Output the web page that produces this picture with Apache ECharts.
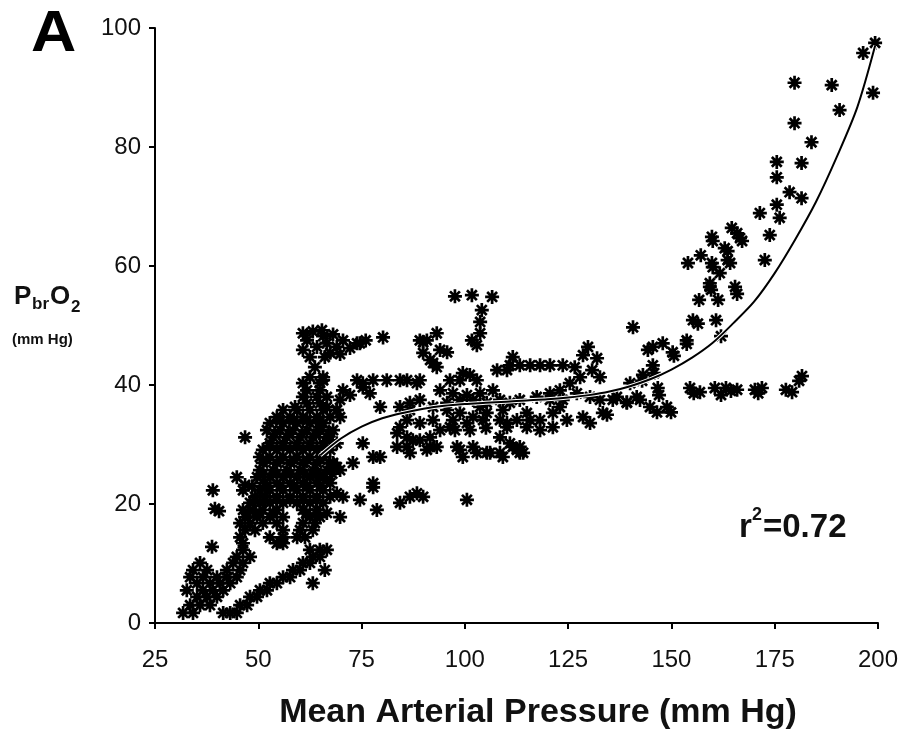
<!DOCTYPE html>
<html>
<head>
<meta charset="utf-8">
<script src="https://cdn.jsdelivr.net/npm/echarts@6/dist/echarts.min.js"></script>
<style>
html,body{margin:0;padding:0;background:#fff;}
#chart{width:906px;height:732px;}
</style>
</head>
<body>
<div id="chart"></div>
<script>
// ---- data (Mean Arterial Pressure [mm Hg], PbrO2 [mm Hg]) ----
const xTicks = [25, 50, 75, 100, 125, 150, 175, 200];
const yTicks = [0, 20, 40, 60, 80, 100];

const lowLeftBlob = [
  [31.8,1.7],[34.2,1.7],[33.5,3.0],[35.9,3.0],[38.3,3.0],[35.2,4.4],[37.6,4.4],[40.0,4.4],
  [32.7,5.5],[36.6,5.5],[39.0,5.5],[41.5,5.5],[35.2,6.7],[38.3,6.7],[40.7,6.7],[43.2,6.7],
  [33.5,7.7],[36.6,7.7],[40.0,7.7],[42.4,7.7],[44.8,7.7],[34.2,8.9],[37.6,8.9],[42.4,8.9],[45.6,8.9],
  [35.9,10.1],[43.9,10.1],[46.3,10.1],[44.8,11.1],[48.0,11.1]
];

const diagonalBand = [
  [41.5,1.7],[43.2,1.7],[44.8,1.7],[45.6,3.0],[47.3,3.0],[48.0,4.4],[49.7,4.4],[50.4,5.5],[52.1,5.5],
  [52.8,6.7],[54.5,6.7],[56.0,7.7],[57.7,7.7],[58.4,8.9],[60.1,8.9],[60.8,10.1],[62.5,10.1],
  [63.2,11.1],[64.9,11.1],[62.5,12.3],[64.9,12.3],[66.6,12.3],[63.2,6.7],[66.1,8.9]
];

const leftIsolated = [
  [38.8,12.8],[39.5,19.2],[40.5,18.8],[39.0,22.3],[46.8,31.2],[44.8,24.5],[46.8,23.2],[58.9,36.3]
];

const mainMass = [
  [46.3,12.3],[46.3,13.4],[54.5,13.4],[56.0,13.4],
  [45.6,14.4],[52.8,14.4],[56.0,14.4],[59.4,14.4],[61.3,14.4],
  [46.8,15.6],[49.2,15.6],[56.0,15.6],[60.1,15.6],[63.2,15.6],
  [45.6,16.8],[48.0,16.8],[51.1,16.8],[54.5,16.8],[60.8,16.8],[63.7,16.8],
  [46.8,17.8],[49.7,17.8],[52.8,17.8],[56.0,17.8],[62.5,17.8],[64.9,17.8],
  [46.3,19.0],[48.7,19.0],[51.1,19.0],[54.5,19.0],[60.8,19.0],[64.2,19.0],
  [48.0,20.2],[50.4,20.2],[52.8,20.2],[56.0,20.2],[59.4,20.2],[62.5,20.2],[65.7,20.2],
  [49.2,21.2],[51.6,21.2],[54.5,21.2],[57.7,21.2],[60.8,21.2],[64.2,21.2],[67.4,21.2],
  [46.3,22.3],[50.4,22.3],[52.8,22.3],[56.0,22.3],[59.4,22.3],[62.5,22.3],[65.7,22.3],
  [51.6,23.5],[54.5,23.5],[57.7,23.5],[60.8,23.5],[64.2,23.5],[67.4,23.5],
  [49.7,24.5],[52.8,24.5],[56.0,24.5],[59.4,24.5],[62.5,24.5],[65.7,24.5],
  [50.4,25.7],[53.6,25.7],[56.9,25.7],[60.1,25.7],[63.2,25.7],[66.6,25.7],[69.8,25.7],
  [51.1,26.9],[54.5,26.9],[57.7,26.9],[60.8,26.9],[64.2,26.9],[67.4,26.9],
  [50.4,27.9],[52.8,27.9],[56.0,27.9],[59.4,27.9],[62.5,27.9],[65.7,27.9],
  [51.1,29.1],[54.5,29.1],[57.7,29.1],[60.8,29.1],[64.2,29.1],[67.4,29.1],
  [52.8,30.2],[56.0,30.2],[59.4,30.2],[62.5,30.2],[65.7,30.2],[69.0,30.2],
  [53.6,31.2],[56.9,31.2],[60.1,31.2],[63.2,31.2],[66.6,31.2],
  [52.1,32.4],[55.3,32.4],[58.4,32.4],[61.8,32.4],[64.9,32.4],[68.1,32.4],
  [52.8,33.6],[56.0,33.6],[59.4,33.6],[62.5,33.6],[65.7,33.6],
  [54.5,34.6],[57.7,34.6],[60.8,34.6],[64.2,34.6],[67.4,34.6],
  [56.0,35.8],[59.4,35.8],[62.5,35.8],[65.7,35.8],[69.0,35.8],
  [61.8,36.9],[64.9,36.9],[60.8,38.0],[64.2,38.0],[66.6,38.0],
  [61.8,39.1],[64.9,39.1],[60.8,40.3],[64.9,40.3],[62.5,41.3],[65.7,41.3],
  [63.7,43.0],[62.5,44.7],[66.1,44.7]
];

const mainMassInner = [
  [47.5,18.4],[50.4,18.4],[53.6,18.4],[61.6,18.4],[64.0,18.4],
  [49.2,20.7],[51.6,20.7],[54.4,20.7],[57.7,20.7],[61.0,20.7],[64.0,20.7],
  [48.5,23.0],[52.0,23.0],[55.3,23.0],[58.6,23.0],[61.8,23.0],[65.0,23.0],
  [51.2,25.1],[54.5,25.1],[57.8,25.1],[61.2,25.1],[64.4,25.1],[67.9,25.1],
  [52.0,27.4],[55.3,27.4],[58.6,27.4],[61.8,27.4],[65.0,27.4],
  [52.8,29.7],[56.0,29.7],[59.3,29.7],[62.5,29.7],[65.8,29.7],
  [54.0,31.8],[57.3,31.8],[60.6,31.8],[63.9,31.8],[67.0,31.8],
  [55.4,34.0],[58.6,34.0],[61.8,34.0],[65.0,34.0]
];

const topLeftCluster = [
  [60.8,48.7],[63.2,49.0],[65.4,49.2],[64.2,46.4],[66.6,47.0],[69.0,46.4],[70.5,47.5],[72.2,46.2],
  [73.9,47.0],[74.6,47.0],[76.0,47.5],[60.8,45.9],[67.4,45.4],[69.8,45.2],[80.2,48.0],
  [61.8,47.5],[65.7,48.2],[68.1,48.5]
];

const midLeftScatter = [
  [67.4,30.7],[75.3,30.2],[77.8,27.9],[79.5,27.9],[72.9,26.9],[69.0,26.2],[68.1,26.9],[66.6,24.0],
  [64.9,24.9],[77.8,23.5],[70.5,21.2],[74.6,20.7],[78.7,19.0],[84.3,20.2],[86.7,21.2],[88.4,21.8],
  [89.9,21.2],[100.5,20.7],[69.0,21.8],[66.6,18.5],[69.8,17.8],[77.8,22.8],
  [64.9,32.9],[66.6,36.3],[69.8,34.6],[69.8,37.5],[70.5,39.1],[75.3,39.6],[77.0,38.6],[79.5,36.3],
  [65.7,40.8],[69.0,35.8],[72.2,38.3],[73.9,40.8]
];

const middleUpper = [
  [75.3,40.3],[77.8,40.8],[81.1,40.8],[84.3,40.8],[86.0,40.8],[88.4,40.3],[89.1,40.8],[96.4,40.8],
  [98.8,40.8],[99.5,42.0],[101.2,41.7],[102.9,40.8],
  [90.8,47.5],[93.2,48.7],[89.9,47.2],[89.9,45.4],[92.3,43.7],[94.0,45.9],[95.7,45.5],[91.6,44.2],
  [93.2,43.0],[89.1,47.5],
  [97.6,54.9],[101.7,55.1],[106.6,54.8],[104.1,52.6],[103.7,50.6],[103.7,48.7],[101.7,47.5],[102.9,46.7],
  [107.8,42.5],[110.2,42.5],[110.9,43.3],[113.3,43.3],[115.8,43.3],[118.2,43.3],[120.6,43.3],[123.7,43.3],
  [111.6,44.7],
  [128.6,45.0],[132.0,44.5],[130.8,42.5],[127.9,41.3],[132.7,41.3],[125.4,40.3],[123.0,39.1],[120.6,38.6],
  [129.8,46.4],[126.6,43.0]
];

const middleBands = [
  [84.3,36.3],[86.7,37.0],[89.1,37.5],[92.3,36.3],[95.7,37.0],[98.8,37.5],[102.0,37.5],[105.3,37.0],
  [108.5,37.5],[110.9,37.0],[113.3,37.5],[117.4,38.0],[120.6,37.5],[123.7,37.5],[127.1,38.6],[130.3,38.0],
  [132.7,37.5],[135.8,37.5],[136.8,38.0],[139.2,37.0],[141.6,38.0],
  [89.1,33.6],[92.3,34.1],[96.4,32.9],[100.5,33.6],[104.4,34.1],[108.5,34.1],[112.6,34.1],[115.8,34.1],
  [118.2,34.1],[121.3,35.3],[124.7,34.1],[128.6,34.6],[130.3,33.6],[133.4,35.3],[115.0,32.9],[118.2,32.4],
  [121.3,32.9],[115.0,35.3],[123.0,36.3],[134.4,35.0],
  [94.0,39.1],[97.1,38.6],[100.5,38.3],[103.7,38.6],[106.8,39.1],[95.7,35.8],[98.8,35.3],[102.0,34.6],
  [105.3,35.3],[97.6,32.4],[101.2,32.4],[105.1,32.8],[86.7,35.8],[86.0,34.1],[97.1,34.1],[103.7,36.3],
  [109.2,35.8],[110.2,33.6]
];

const middleLower = [
  [84.3,32.9],[86.0,31.2],[83.6,31.9],[83.6,29.6],[86.0,29.6],[87.4,30.7],[89.1,30.7],[90.8,29.1],
  [91.6,31.2],[91.6,29.6],[94.0,32.4],[86.7,28.6],[93.2,29.6],[98.1,29.6],[99.5,27.9],[98.8,29.1],
  [102.0,29.6],[102.9,28.6],[105.3,28.6],[106.1,28.6],[108.5,28.6],[111.6,29.6],[112.6,29.1],[113.3,29.6],
  [114.1,28.6],[108.5,31.2],[110.9,30.2],[110.2,32.9],[109.2,27.9],[113.3,28.6]
];

const rightMiddle = [
  [140.0,40.3],[143.1,41.7],[145.5,43.3],[145.5,46.4],[147.9,47.0],[150.3,45.5],[153.7,47.5],[155.2,50.9],
  [144.8,36.3],[148.9,36.3],[146.7,39.5],[154.5,39.5],[140.7,49.7],[142.4,37.5],[146.5,35.4],[149.9,35.4],
  [142.9,40.7],[145.8,42.0],[139.2,37.1],[147.0,38.3],[144.3,45.9],[153.7,46.9],[150.6,44.9]
];

const rightUpper = [
  [199.3,97.5],[196.4,95.8],[198.8,89.1],[188.8,90.4],[179.8,90.8],[190.7,86.2],[179.8,84.0],[183.9,80.8],
  [175.5,77.5],[181.5,77.3],[175.5,74.9],[178.6,72.4],[181.5,71.4],[171.4,68.9],[175.5,70.3],[176.2,68.1],
  [173.8,65.2],[172.6,61.0],[165.9,65.5],[167.1,64.2],[159.8,64.9],[164.6,66.4],[166.6,64.7],[160.0,64.2],
  [162.9,63.0],[163.6,62.5],[163.6,61.0],[164.2,60.5],[159.8,60.5],[160.0,59.8],[161.7,58.8],[159.3,57.1],
  [159.3,56.5],[165.4,56.5],[165.9,55.3],[159.6,56.0],[161.3,54.3],[156.7,54.3],[156.4,50.3],[160.8,50.9],
  [162.0,48.2],[154.0,60.5],[157.1,61.8]
];

const rightFlat = [
  [155.4,38.6],[156.9,38.8],[160.5,39.5],[162.0,38.3],[163.2,39.5],[164.4,39.0],[165.9,39.2],[170.2,39.2],
  [171.9,39.5],[171.0,38.6],[177.7,39.2],[179.2,38.8],[180.9,40.7],[181.6,41.5]
];

// fitted curve (r² = 0.72)
const fitX = [65, 70, 75, 80, 85, 90, 95, 100, 105, 110, 115, 120, 125, 130, 135, 140, 145, 150, 155, 160, 165, 170, 175, 180, 185, 190, 195, 199.3];
const fitY = [28.2, 31.0, 33.0, 34.4, 35.3, 36.0, 36.5, 36.8, 37.0, 37.2, 37.4, 37.6, 37.9, 38.3, 38.9, 39.8, 41.0, 42.6, 44.6, 47.1, 50.4, 54.0, 58.8, 64.5, 70.8, 78.3, 86.7, 97.0];

// ---- chart ----
const points = [].concat(lowLeftBlob, diagonalBand, leftIsolated, mainMass, mainMassInner, topLeftCluster,
  midLeftScatter, middleUpper, middleBands, middleLower, rightMiddle, rightUpper, rightFlat);
const fitLine = fitX.map((x, i) => [x, fitY[i]]);

const FONT = '"Liberation Sans", Arial, "DejaVu Sans", sans-serif';
const star = 'path://M6 0 L6 12 M0 6 L12 6 M1.76 1.76 L10.24 10.24 M1.76 10.24 L10.24 1.76';

const chart = echarts.init(document.getElementById('chart'), null, {renderer: 'canvas'});
chart.setOption({
  animation: false,
  backgroundColor: '#fff',
  grid: {left: 155, right: 28, top: 28, bottom: 109, containLabel: false, outerBoundsMode: 'none'},
  xAxis: {
    type: 'value', min: 25, max: 200, interval: 25,
    axisLine: {show: true, onZero: false, lineStyle: {color: '#000', width: 2}},
    axisTick: {show: true, length: 6, lineStyle: {color: '#000', width: 2}},
    axisLabel: {color: '#111', fontSize: 24, fontFamily: FONT, margin: 25,
      formatter: v => xTicks.indexOf(v) >= 0 ? String(v) : ''},
    splitLine: {show: false}
  },
  yAxis: {
    type: 'value', min: 0, max: 100, interval: 20,
    axisLine: {show: true, onZero: false, lineStyle: {color: '#000', width: 2}},
    axisTick: {show: true, length: 6, lineStyle: {color: '#000', width: 2}},
    axisLabel: {color: '#111', fontSize: 24, fontFamily: FONT, margin: 14,
      formatter: v => yTicks.indexOf(v) >= 0 ? String(v) : ''},
    splitLine: {show: false}
  },
  series: [
    {
      type: 'scatter', data: points, symbol: star, symbolSize: 14,
      itemStyle: {color: '#000', borderColor: '#000', borderWidth: 2.7, opacity: 1},
      z: 2, silent: true
    },
    {
      type: 'line', data: fitLine, smooth: 0.3, showSymbol: false, symbol: 'none',
      lineStyle: {color: '#fff', width: 4}, z: 3, silent: true
    },
    {
      type: 'line', data: fitLine, smooth: 0.3, showSymbol: false, symbol: 'none',
      lineStyle: {color: '#000', width: 2}, z: 4, silent: true
    }
  ],
  graphic: [
    {type: 'text', x: 31, y: 35, scaleX: 1.08, style: {text: 'A', font: 'bold 58px ' + FONT, fill: '#000', verticalAlign: 'middle'}},
    {type: 'text', x: 14, y: 297, style: {text: 'P', font: 'bold 26px ' + FONT, fill: '#111', verticalAlign: 'middle'}},
    {type: 'text', x: 32, y: 304, style: {text: 'br', font: 'bold 17px ' + FONT, fill: '#111', verticalAlign: 'middle'}},
    {type: 'text', x: 50, y: 297, style: {text: 'O', font: 'bold 26px ' + FONT, fill: '#111', verticalAlign: 'middle'}},
    {type: 'text', x: 71, y: 307, style: {text: '2', font: 'bold 17px ' + FONT, fill: '#111', verticalAlign: 'middle'}},
    {type: 'text', x: 12, y: 340, style: {text: '(mm Hg)', font: 'bold 15px ' + FONT, fill: '#111', verticalAlign: 'middle'}},
    {type: 'text', x: 739, y: 528, style: {text: 'r', font: 'bold 33px ' + FONT, fill: '#111', verticalAlign: 'middle'}},
    {type: 'text', x: 752, y: 515, style: {text: '2', font: 'bold 18px ' + FONT, fill: '#111', verticalAlign: 'middle'}},
    {type: 'text', x: 763, y: 528, style: {text: '=0.72', font: 'bold 33px ' + FONT, fill: '#111', verticalAlign: 'middle'}},
    {type: 'text', x: 538, y: 713, style: {text: 'Mean Arterial Pressure (mm Hg)', font: 'bold 34px ' + FONT, fill: '#111', align: 'center', verticalAlign: 'middle'}}
  ]
});
</script>
</body>
</html>
